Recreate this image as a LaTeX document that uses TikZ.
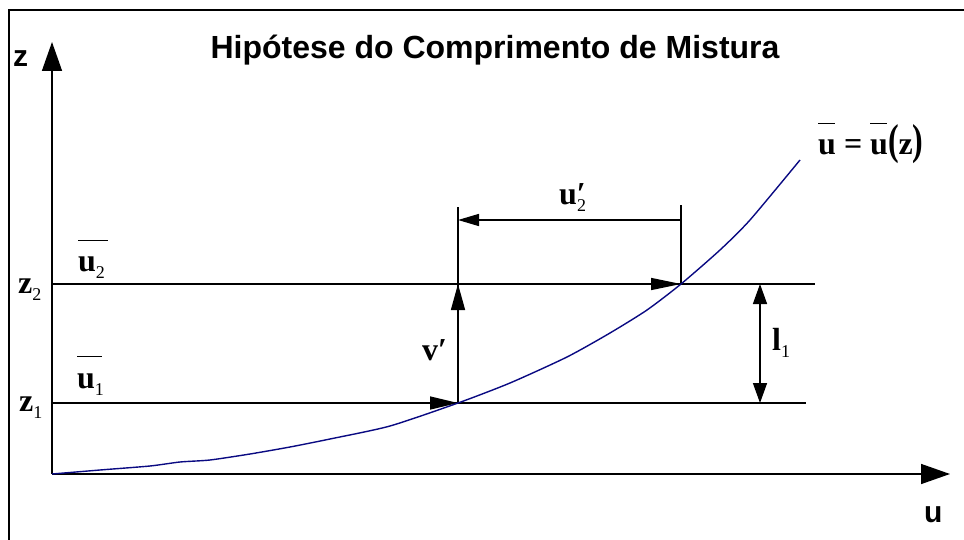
\documentclass[tikz,border=0pt]{standalone}
\usepackage{fontspec}
\setmainfont{Liberation Serif}
\newfontfamily\arialfont{Liberation Sans}
\usetikzlibrary{arrows.meta}
\definecolor{curveblue}{RGB}{10,10,130}
\newcommand\lab{\fontsize{32}{38}\selectfont\bfseries}
\newcommand\sbs[1]{\raisebox{-7pt}{\fontsize{18}{18}\selectfont\mdseries #1}}
\newcommand\ubar[1]{\makebox[0pt][l]{\rule[31pt]{#1}{1.3pt}}u}
\newcommand\prm{′}
\begin{document}
\begin{tikzpicture}[x=1pt,y=-1pt,
  ln/.style={line width=1.5pt},
  axisarrow/.style={ln,-{Triangle[length=29pt,width=20pt]}},
  lbl/.style={anchor=base west,inner sep=0pt,font=\lab},
  sanslbl/.style={anchor=base west,inner sep=0pt,font=\arialfont\bfseries\fontsize{30}{34}\selectfont}]
\useasboundingbox (0,0) rectangle (964,540);
\draw[line width=1.6pt] (9,545) -- (9,10) -- (970,10);
% coordinates
\coordinate (O) at (52,474);
\coordinate (ztop) at (52,42);
\coordinate (uend) at (950,474);
\coordinate (L1s) at (52,403);
\coordinate (L1e) at (806,403);
\coordinate (L2s) at (52,284);
\coordinate (L2e) at (815,284);
\coordinate (P1) at (458,403);
\coordinate (P2) at (681,284);
\coordinate (V1top) at (458,207);
\coordinate (V1tip) at (458,284);
\coordinate (V2top) at (681,205);
\coordinate (Ha) at (681,220);
\coordinate (Hb) at (458,220);
\coordinate (La) at (760,284);
\coordinate (Lb) at (760,403);
% axes
\draw[axisarrow] (O) -- (ztop);
\draw[axisarrow] (O) -- (uend);
% levels
\draw[ln] (L1s) -- (L1e);
\draw[ln] (L2s) -- (L2e);
\draw[ln,-{Triangle[length=28pt,width=13pt]}] (L1s) -- (P1);
\draw[ln,-{Triangle[length=30pt,width=12pt]}] (L2s) -- (P2);
\draw[ln] (P1) -- (V1top);
\draw[ln,-{Triangle[length=26pt,width=14pt]}] (P1) -- (V1tip);
\draw[ln] (P2) -- (V2top);
\draw[ln,-{Triangle[length=21pt,width=12pt]}] (Ha) -- (Hb);
\draw[ln,{Triangle[length=20pt,width=14pt]}-{Triangle[length=20pt,width=14pt]}] (La) -- (Lb);
% curve
\draw[curveblue,line width=1.4pt] plot[smooth,tension=0.4] coordinates {(52,474) (100,470) (150,466) (180,462) (210,460) (250,454) (290,447) (330,439) (390,426) (458,403) (510,383) (567,357) (610,333) (647,310) (681,284) (720,250) (750,220) (800,160)};
% labels
\node[anchor=base,inner sep=0pt,font=\arialfont\bfseries\fontsize{32}{38}\selectfont] (title) at (495,59) {Hipótese do Comprimento de Mistura};
\node[sanslbl] (zlab) at (13,67) {z};
\node[sanslbl] (ulab) at (924,522) {u};
\node[lbl] (z2lab) at (18,293) {z\sbs{2}};
\node[lbl] (z1lab) at (19,411) {z\sbs{1}};
\node[lbl] (u2lab) at (78,272) {\ubar{30pt}\sbs{2}};
\node[lbl] (u1lab) at (77,388) {\ubar{25pt}\sbs{1}};
\node[lbl] (vlab) at (422,360) {v\prm};
\node[lbl] (llab) at (772,350) {l\sbs{1}};
\node[lbl] (uplab) at (559,205) {u\makebox[0pt][l]{\prm}\sbs{2}};
\node[lbl] (eqlab) at (818,155) {\ubar{17pt} = \ubar{17pt}\scalebox{1}[1.35]{(}z\scalebox{1}[1.35]{)}};
\end{tikzpicture}
\end{document}
